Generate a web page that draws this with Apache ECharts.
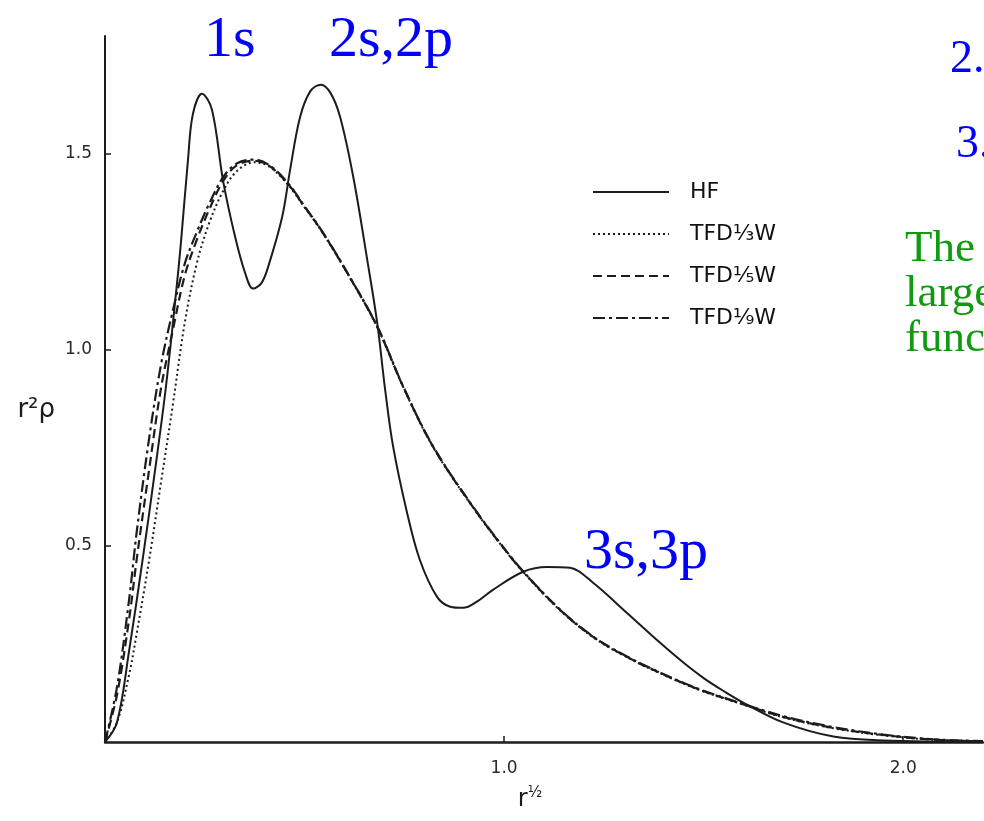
<!DOCTYPE html>
<html>
<head>
<meta charset="utf-8">
<script src="https://cdn.jsdelivr.net/npm/echarts@6/dist/echarts.min.js"></script>
<style>html,body{margin:0;padding:0;background:#fff;}#c{width:984px;height:821px;}</style>
</head>
<body>
<div id="c"></div>
<script>
// ---- data ----
const hfX = [0, 0.03, 0.06, 0.095, 0.125, 0.152, 0.178, 0.19, 0.208, 0.22, 0.243, 0.268, 0.296, 0.326, 0.351, 0.371, 0.392, 0.409, 0.444, 0.464, 0.489, 0.515, 0.541, 0.565, 0.589, 0.622, 0.657, 0.682, 0.702, 0.722, 0.757, 0.789, 0.832, 0.865, 0.897, 0.935, 0.972, 1.048, 1.108, 1.165, 1.223, 1.308, 1.391, 1.45, 1.5, 1.55, 1.6, 1.699, 1.825, 1.95, 2.2];
const hfY = [0, 0.05, 0.23, 0.47, 0.69, 0.90, 1.145, 1.27, 1.485, 1.6, 1.653, 1.612, 1.43, 1.288, 1.196, 1.156, 1.17, 1.212, 1.339, 1.46, 1.594, 1.66, 1.676, 1.655, 1.594, 1.441, 1.23, 1.069, 0.898, 0.753, 0.584, 0.464, 0.37, 0.345, 0.342, 0.36, 0.388, 0.434, 0.446, 0.444, 0.406, 0.329, 0.253, 0.202, 0.163, 0.13, 0.1, 0.05, 0.014, 0.004, 0];

const tfdX = [0, 0.03, 0.06, 0.08, 0.11, 0.14, 0.17, 0.2, 0.23, 0.26, 0.296, 0.33, 0.373, 0.41, 0.456, 0.5, 0.546, 0.607, 0.682, 0.747, 0.822, 0.922, 0.997, 1.048, 1.14, 1.223, 1.308, 1.391, 1.491, 1.591, 1.699, 1.825, 1.95, 2.075, 2.2];
const tfd3Y = [0, 0.05, 0.17, 0.28, 0.46, 0.66, 0.86, 1.07, 1.22, 1.32, 1.405, 1.455, 1.478, 1.468, 1.424, 1.363, 1.297, 1.195, 1.058, 0.905, 0.752, 0.598, 0.496, 0.433, 0.336, 0.267, 0.216, 0.175, 0.132, 0.098, 0.063, 0.035, 0.017, 0.006, 0.002];
const tfd5Y = [0, 0.12, 0.31, 0.47, 0.69, 0.90, 1.05, 1.19, 1.28, 1.355, 1.43, 1.47, 1.482, 1.47, 1.426, 1.365, 1.298, 1.196, 1.059, 0.906, 0.753, 0.599, 0.497, 0.434, 0.337, 0.268, 0.217, 0.176, 0.133, 0.099, 0.064, 0.036, 0.018, 0.006, 0.002];
const tfd9Y = [0, 0.14, 0.36, 0.54, 0.77, 0.96, 1.10, 1.22, 1.30, 1.37, 1.44, 1.475, 1.485, 1.472, 1.428, 1.366, 1.299, 1.197, 1.06, 0.907, 0.754, 0.6, 0.498, 0.435, 0.338, 0.269, 0.218, 0.177, 0.134, 0.1, 0.066, 0.038, 0.019, 0.007, 0.002];

const seriesNames = ['HF', 'TFD⅓W', 'TFD⅕W', 'TFD⅑W'];
const xTickValues = [1.0, 2.0];
const yTickValues = [0.5, 1.0, 1.5];
const xAxisName = 'r{s|½}';
const yAxisName = 'r²ρ';
const shellLabels = ['1s', '2s,2p', '3s,3p'];
const sideBlue = ['2.', '3.'];
const sideGreen = ['The', 'larger', 'functional'];

const zip = (xs, ys) => xs.map((x, i) => [x, ys[i]]);
const ink = '#1c1c1c';

const chart = echarts.init(document.getElementById('c'), null, {renderer: 'canvas'});
chart.setOption({
  animation: false,
  backgroundColor: '#ffffff',
  grid: {left: 105, right: 1, top: 36, bottom: 79, containLabel: false},
  xAxis: {
    type: 'value', min: 0, max: 2.2,
    name: xAxisName, nameLocation: 'middle', nameGap: 44,
    nameTextStyle: {
      color: ink, fontFamily: 'DejaVu Sans', fontSize: 24, padding: [0, 28, 0, 0],
      rich: {s: {fontSize: 15, fontFamily: 'DejaVu Sans', color: ink, padding: [0, 0, 12, 0]}}
    },
    axisLine: {show: true, onZero: false, lineStyle: {color: ink, width: 2.5}},
    axisTick: {show: true, inside: true, length: 6, customValues: xTickValues, lineStyle: {color: ink, width: 1.5}},
    axisLabel: {show: true, customValues: xTickValues, margin: 18, color: '#2a2a2a', fontFamily: 'DejaVu Sans', fontSize: 17,
      formatter: v => v.toFixed(1)},
    splitLine: {show: false}
  },
  yAxis: {
    type: 'value', min: 0, max: 1.8,
    name: yAxisName, nameLocation: 'middle', nameGap: 50, nameRotate: 0,
    nameTextStyle: {color: ink, fontFamily: 'DejaVu Sans', fontSize: 26, verticalAlign: 'top', padding: [8, 0, 0, 0]},
    axisLine: {show: true, onZero: false, lineStyle: {color: ink, width: 2}},
    axisTick: {show: true, inside: true, length: 6, customValues: yTickValues, lineStyle: {color: ink, width: 1.5}},
    axisLabel: {show: true, customValues: yTickValues, margin: 13, color: '#2a2a2a', fontFamily: 'DejaVu Sans', fontSize: 17,
      formatter: v => v.toFixed(1)},
    splitLine: {show: false}
  },
  legend: {
    show: true, orient: 'vertical', left: 587, top: 176,
    itemWidth: 76, itemHeight: 14, itemGap: 20,
    data: seriesNames,
    itemStyle: {opacity: 0},
    textStyle: {color: '#111', fontFamily: 'DejaVu Sans', fontSize: 22, padding: [0, 0, 0, 16], lineHeight: 14},
    inactiveColor: '#111'
  },
  series: [
    {name: seriesNames[0], type: 'line', data: zip(hfX, hfY), smooth: 0.35, symbol: 'none', z: 5,
      lineStyle: {color: ink, width: 2, type: 'solid'}, itemStyle: {color: ink}},
    {name: seriesNames[1], type: 'line', data: zip(tfdX, tfd3Y), smooth: 0.35, symbol: 'none',
      lineStyle: {color: ink, width: 2, type: [2, 3]}, itemStyle: {color: ink}},
    {name: seriesNames[2], type: 'line', data: zip(tfdX, tfd5Y), smooth: 0.35, symbol: 'none',
      lineStyle: {color: ink, width: 2.2, type: [9, 5]}, itemStyle: {color: ink}},
    {name: seriesNames[3], type: 'line', data: zip(tfdX, tfd9Y), smooth: 0.35, symbol: 'none',
      lineStyle: {color: ink, width: 2.2, type: [12, 4, 3, 4]}, itemStyle: {color: ink}}
  ],
  graphic: [
    {type: 'text', x: 204, y: 12, style: {text: shellLabels[0], font: '58px "Liberation Serif"', fill: '#0000ff'}},
    {type: 'text', x: 329, y: 12, style: {text: shellLabels[1], font: '58px "Liberation Serif"', fill: '#0000ff'}},
    {type: 'text', x: 584, y: 524, style: {text: shellLabels[2], font: '58px "Liberation Serif"', fill: '#0000ff'}},
    {type: 'text', x: 950, y: 37, style: {text: sideBlue[0], font: '46px "Liberation Serif"', fill: '#0000ff'}},
    {type: 'text', x: 956, y: 122, style: {text: sideBlue[1], font: '46px "Liberation Serif"', fill: '#0000ff'}},
    {type: 'text', x: 905, y: 227, style: {text: sideGreen[0], font: '45px "Liberation Serif"', fill: '#109a10'}},
    {type: 'text', x: 905, y: 272, style: {text: sideGreen[1], font: '45px "Liberation Serif"', fill: '#109a10'}},
    {type: 'text', x: 905, y: 317, style: {text: sideGreen[2], font: '45px "Liberation Serif"', fill: '#109a10'}}
  ]
});
</script>
</body>
</html>
